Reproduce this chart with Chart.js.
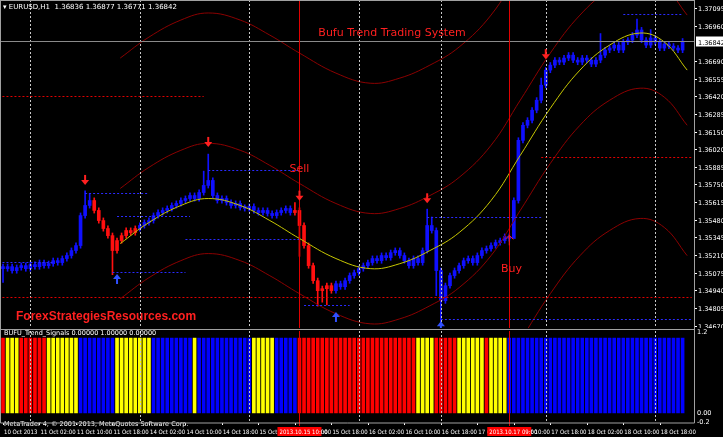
<!DOCTYPE html>
<html><head><meta charset="utf-8">
<script src="https://cdn.jsdelivr.net/npm/chart.js@4/dist/chart.umd.min.js"></script>
<style>
html,body{margin:0;padding:0;background:#000;width:723px;height:437px;overflow:hidden}
#w1{position:absolute;left:0;top:0;width:723px;height:328px}
#w2{position:absolute;left:0;top:328px;width:723px;height:109px}
</style></head><body>
<div id="w1"><canvas id="c1"></canvas></div>
<div id="w2"><canvas id="c2"></canvas></div>
<script>
// ---------- DATA ----------
const closes = [
1.35106,1.35121,1.35091,1.35114,1.35129,1.35106,1.35137,1.35121,1.35152,1.35129,1.35144,1.35167,1.35152,
1.35183,1.35206,1.35244,1.35282,
1.35511,1.35588,1.35626,
1.35550,1.35473,1.35412,1.35358,1.35244,
1.35320,1.35358,1.35397,
1.35381,1.35412,1.35435,1.35458,1.35473,
1.35511,1.35534,1.35550,1.35565,1.35588,1.35603,1.35626,1.35641,1.35664,
1.35641,1.35687,1.35741,1.35779,
1.35664,1.35626,1.35641,1.35611,1.35588,1.35603,1.35573,1.35565,1.35580,1.35550,1.35534,1.35550,1.35527,1.35511,1.35534,1.35550,1.35565,1.35534,
1.35550,
1.35435,1.35282,1.35129,1.35014,1.34938,
1.34953,1.34976,1.34938,1.34991,1.34968,1.35014,1.35053,
1.35075,1.35106,1.35129,1.35152,1.35183,1.35167,1.35206,1.35190,1.35228,1.35244,
1.35206,1.35167,1.35129,1.35183,1.35152,1.35244,1.35435,
1.35397,
1.35091,1.34861,
1.34976,1.35053,1.35091,1.35129,1.35167,1.35183,1.35152,1.35206,1.35244,1.35259,1.35282,1.35305,
1.35320,1.35351,1.35336,
1.35626,1.36085,
1.36200,1.36238,1.36315,1.36391,1.36506,1.36621,
1.36659,1.36697,1.36682,1.36713,1.36735,1.36697,1.36682,1.36713,1.36697,1.36667,
1.36697,1.36735,1.36774,1.36789,1.36812,1.36774,1.36835,1.36850,1.36888,
1.36927,1.36850,1.36812,1.36866,1.36835,1.36789,1.36820,1.36804,1.36789,1.36774,1.36842
];
const firstOpen = 1.35121;
const wickHigh = {18:1.35700,19:1.35680,45:1.35980,44:1.35850,64:1.35610,93:1.35560,94:1.35500,118:1.36560,139:1.37010,131:1.36900,142:1.36930};
const wickLow  = {0:1.35000,24:1.35060,69:1.34820,70:1.34850,71:1.34830,96:1.34690,95:1.34900,112:1.35500,65:1.35200};
const redCandles = [20,21,22,23,24,25,26,27,28,29,64,65,66,67,68,69,70,71,72];
const signals = "RYYYRRRRRRYYYYYYYBBBBBBBBYYYYYYYYBBBBBBBBBYBBBBBBBBBBBBYYYYYBBBBBRRRRRRRRRRRRRRRRRRRRRRRRRRYYYYRRRRRYYYYYYRYYYYBBBBBBBBBBBBBBBBBBBBBBBBBBBBBBBBBBBBBBB";
const midIdx   = [25.7,32,39,45,52,58.5,65,73,80.5,87,93.6,100,107,113.4,120,126.5,133,139.7,145,150];
const midLine  = [1.35297,1.35458,1.35588,1.35641,1.35588,1.35473,1.35336,1.35183,1.35106,1.35144,1.35244,1.35381,1.35626,1.35970,1.36330,1.36621,1.36812,1.36904,1.36835,1.36621];
const upInner  = [1.35718,1.35879,1.36009,1.36062,1.36009,1.35894,1.35756,1.35603,1.35527,1.35565,1.35664,1.35802,1.36047,1.36391,1.36751,1.37041,1.37233,1.37324,1.37256,1.37041];
const loInner  = [1.34876,1.35037,1.35167,1.35221,1.35167,1.35052,1.34915,1.34762,1.34685,1.34723,1.34823,1.34961,1.35205,1.35550,1.35909,1.36200,1.36391,1.36483,1.36414,1.36200];
const upOuter  = [1.36713,1.36873,1.37003,1.37057,1.37003,1.36888,1.36751,1.36598,1.36521,1.36560,1.36659,1.36797,1.37041,1.37386];
const loOuterIdx = [113.4,120,126.5,133,139.7,145,150];
const loOuter  = [1.34555,1.34915,1.35205,1.35397,1.35489,1.35420,1.35205];
const priceTicks = [1.37095,1.36960,1.36690,1.36555,1.36420,1.36285,1.36150,1.36020,1.35885,1.35750,1.35615,1.35480,1.35345,1.35210,1.35075,1.34940,1.34805,1.34670];
const dateTicks = ["10 Oct 2013","11 Oct 02:00","11 Oct 10:00","11 Oct 18:00","14 Oct 02:00","14 Oct 10:00","14 Oct 18:00","15 Oct 02:00","15 Oct 10:00","15 Oct 18:00","16 Oct 02:00","16 Oct 10:00","16 Oct 18:00","17 Oct 02:00","17 Oct 10:00","17 Oct 18:00","18 Oct 02:00","18 Oct 10:00","18 Oct 18:00"];
const gridIdx = [6,30,54,78,96,119,143];
const signalLines = [{i:65,label:"2013.10.15 10:00"},{i:111,label:"2013.10.17 09:00"}];
const sellArrows = [[18,1.35760],[45,1.36050],[93,1.35620],[119,1.36720]];
const buyArrows  = [[25,1.35050],[73,1.34760],[96,1.34690]];
const dottedLines = [
 {a:-1,b:44,p:1.36420,c:'#e00000'},{a:-1,b:151,p:1.34890,c:'#e00000'},{a:118,b:151,p:1.35960,c:'#e00000'},
 {a:18,b:32,p:1.35680,c:'#2a2aff'},{a:25,b:41,p:1.35510,c:'#2a2aff'},{a:24,b:40,p:1.35080,c:'#2a2aff'},
 {a:45,b:65,p:1.35860,c:'#2a2aff'},{a:40,b:65,p:1.35330,c:'#2a2aff'},{a:66,b:76,p:1.34830,c:'#2a2aff'},
 {a:-1,b:11,p:1.35160,c:'#2a2aff'},{a:96,b:151,p:1.34720,c:'#2a2aff'},{a:93,b:118,p:1.35500,c:'#2a2aff'},
 {a:136,b:149,p:1.37050,c:'#2a2aff'},{a:130,b:137,p:1.36842,c:'#2a2aff'}
];
// ---------- BUILD ----------
const N = closes.length;
const opens = closes.map((c,i)=> i===0 ? firstOpen : closes[i-1]);
const bodies = closes.map((c,i)=>({x:i,y:[opens[i],c]}));
const wicks = closes.map((c,i)=>({x:i,y:[wickLow[i]!==undefined?wickLow[i]:Math.min(opens[i],c)-0.0002, wickHigh[i]!==undefined?wickHigh[i]:Math.max(opens[i],c)+0.0002]}));
const candleCol = closes.map((c,i)=> redCandles.includes(i)?'#ff1010':'#1010ff');
const pts = (ix,arr)=>arr.map((v,k)=>({x:ix[k],y:v}));
const XMIN=-0.66, XMAX=151.5;
const FONT='"DejaVu Sans", sans-serif';
const NFONT='"DejaVu Sans Condensed", "Liberation Sans Narrow", sans-serif';
const fixW = {afterFit(s){s.width=29;}};

const overlay = {
 id:'overlay',
 afterDatasetsDraw(ch){
  const {ctx,chartArea:a,scales:{x,y}}=ch;
  ctx.save();
  ctx.beginPath();ctx.rect(a.left,a.top,a.right-a.left,a.bottom-a.top);ctx.clip();
  ctx.setLineDash([2,2]);ctx.strokeStyle='#c8c8c8';ctx.lineWidth=1;
  gridIdx.forEach(g=>{const px=Math.round(x.getPixelForValue(g))+0.5;ctx.beginPath();ctx.moveTo(px,a.top);ctx.lineTo(px,a.bottom);ctx.stroke();});
  dottedLines.forEach(d=>{ctx.strokeStyle=d.c;const py=Math.round(y.getPixelForValue(d.p))+0.5;ctx.beginPath();ctx.moveTo(x.getPixelForValue(d.a),py);ctx.lineTo(x.getPixelForValue(d.b),py);ctx.stroke();});
  ctx.setLineDash([]);
  const cp=Math.round(y.getPixelForValue(closes[N-1]))+0.5;
  ctx.strokeStyle='#8a8a8a';ctx.beginPath();ctx.moveTo(a.left,cp);ctx.lineTo(a.right,cp);ctx.stroke();
  ctx.strokeStyle='#e00000';
  signalLines.forEach(s=>{const px=Math.round(x.getPixelForValue(s.i))+0.5;ctx.beginPath();ctx.moveTo(px,a.top);ctx.lineTo(px,a.bottom);ctx.stroke();});
  const arrow=(i,p,down,col)=>{const px=x.getPixelForValue(i),py=y.getPixelForValue(p);ctx.fillStyle=col;ctx.strokeStyle=col;ctx.lineWidth=2;
   const d=down?1:-1;ctx.beginPath();ctx.moveTo(px,py-d*8);ctx.lineTo(px,py-d*2);ctx.stroke();
   ctx.beginPath();ctx.moveTo(px-4,py-d*3);ctx.lineTo(px+4,py-d*3);ctx.lineTo(px,py+d*2);ctx.closePath();ctx.fill();};
  sellArrows.forEach(s=>arrow(s[0],s[1],true,'#ff2020'));
  buyArrows.forEach(s=>arrow(s[0],s[1],false,'#3050ff'));
  arrow(65,1.35640,true,'#ff2020');
  ctx.lineWidth=1;ctx.strokeStyle='#ff2020';
  const bx=x.getPixelForValue(111),by=y.getPixelForValue(1.35360);
  ctx.beginPath();ctx.moveTo(bx,by+10);ctx.lineTo(bx,by);ctx.moveTo(bx-4,by+4);ctx.lineTo(bx,by);ctx.lineTo(bx+4,by+4);ctx.stroke();
  ctx.restore();
  ctx.save();
  ctx.fillStyle='#ff2020';ctx.font='11px '+FONT;ctx.textAlign='center';
  ctx.fillText('Sell',x.getPixelForValue(65),y.getPixelForValue(1.35840));
  ctx.fillText('Buy',x.getPixelForValue(111.5),y.getPixelForValue(1.35080));
  ctx.fillText('Bufu Trend Trading System',392,36);
  ctx.font='bold 12px "Liberation Sans", sans-serif';ctx.textAlign='left';
  ctx.fillText('ForexStrategiesResources.com',16,320);
  ctx.fillStyle='#fff';ctx.font='7px '+FONT;
  ctx.fillText('▾ EURUSD,H1  1.36836 1.36877 1.36771 1.36842',3,9);
  ctx.fillStyle='#fff';ctx.font='6.5px '+FONT;
  priceTicks.forEach(v=>{const py=y.getPixelForValue(v);ctx.fillRect(a.right,Math.round(py),3,1);ctx.fillText(v.toFixed(5),a.right+4,py+3);});
  ctx.fillRect(a.right+2,cp-5,28,10);
  ctx.fillStyle='#000';ctx.fillText('1.36842',a.right+4,cp+3);
  ctx.strokeStyle='#a0a0a0';ctx.lineWidth=1;
  ctx.strokeRect(0.5,0.5,a.right,a.bottom+0.5);
  ctx.restore();
 }
};

new Chart(document.getElementById('c1'),{
 type:'bar',
 data:{datasets:[
  {type:'line',data:pts(midIdx,midLine),borderColor:'#c8c800',borderWidth:1,pointRadius:0,tension:0.4},
  {type:'line',data:pts(midIdx,upInner),borderColor:'#8b0000',borderWidth:1,pointRadius:0,tension:0.4},
  {type:'line',data:pts(midIdx,loInner),borderColor:'#8b0000',borderWidth:1,pointRadius:0,tension:0.4},
  {type:'line',data:pts(midIdx.slice(0,upOuter.length),upOuter),borderColor:'#8b0000',borderWidth:1,pointRadius:0,tension:0.4},
  {type:'line',data:pts(loOuterIdx,loOuter),borderColor:'#8b0000',borderWidth:1,pointRadius:0,tension:0.4},
  {data:wicks,backgroundColor:candleCol,barThickness:1,grouped:false},
  {data:bodies,backgroundColor:candleCol,barThickness:3,grouped:false,minBarLength:2}
 ]},
 options:{responsive:true,maintainAspectRatio:false,animation:false,
  layout:{padding:0},
  plugins:{legend:{display:false},tooltip:{enabled:false}},
  scales:{
   x:{type:'linear',min:XMIN,max:XMAX,offset:false,display:false},
   y:{position:'right',min:1.34653,max:1.37156,...fixW,
      grid:{display:false},border:{display:false},ticks:{display:false}}
  }},
 plugins:[overlay]
});

const subOverlay={
 id:'sub',
 afterDatasetsDraw(ch){
  const {ctx,chartArea:a,scales:{x}}=ch;
  ctx.save();
  ctx.setLineDash([2,2]);ctx.strokeStyle='#c8c8c8';
  gridIdx.forEach(g=>{const px=Math.round(x.getPixelForValue(g))+0.5;ctx.beginPath();ctx.moveTo(px,a.top);ctx.lineTo(px,a.bottom);ctx.stroke();});
  ctx.setLineDash([]);ctx.strokeStyle='#e00000';
  signalLines.forEach(s=>{const px=Math.round(x.getPixelForValue(s.i))+0.5;ctx.beginPath();ctx.moveTo(px,a.top);ctx.lineTo(px,a.bottom+3);ctx.stroke();});
  ctx.fillStyle='#fff';ctx.font='6.5px '+FONT;ctx.textAlign='left';
  ctx.fillText('BUFU_Trend_Signals 0.00000 1.00000 0.00000',4,7);
  ctx.fillText('MetaTrader 4, © 2001-2013, MetaQuotes Software Corp.',4,98);
  ctx.fillText('1.2',a.right+3,6);ctx.fillText('0.00',a.right+3,87);ctx.fillText('-0.2',a.right+3,96);
  const ty=106;
  ctx.font='6px '+NFONT;
  dateTicks.forEach((t,k)=>{const px=x.getPixelForValue(k*8);ctx.fillRect(Math.round(px),a.bottom,1,2);ctx.fillText(t,px+1,ty);});
  signalLines.forEach(s=>{const px=x.getPixelForValue(s.i);ctx.fillStyle='#ff0000';ctx.fillRect(px-22,ty-7,44,9);ctx.fillStyle='#fff';ctx.fillText(s.label,px-20,ty);});
  ctx.strokeStyle='#a0a0a0';ctx.lineWidth=1;
  ctx.beginPath();ctx.moveTo(0,1.5);ctx.lineTo(a.right,1.5);ctx.moveTo(0.5,0);ctx.lineTo(0.5,a.bottom);ctx.lineTo(a.right+0.5,a.bottom);ctx.lineTo(a.right+0.5,0);ctx.stroke();
  ctx.restore();
 }
};
const sigCol={R:'#ff0000',Y:'#ffff00',B:'#0000ff'};
new Chart(document.getElementById('c2'),{
 type:'bar',
 data:{datasets:[{data:closes.map((c,i)=>({x:i,y:1})),backgroundColor:closes.map((c,i)=>sigCol[signals[i]]),barThickness:3}]},
 options:{responsive:true,maintainAspectRatio:false,animation:false,
  layout:{padding:{top:3,bottom:14}},
  plugins:{legend:{display:false},tooltip:{enabled:false}},
  scales:{
   x:{type:'linear',min:XMIN,max:XMAX,offset:false,display:false},
   y:{position:'right',min:-0.135,max:1.095,...fixW,grid:{display:false},border:{display:false},ticks:{display:false}}
  }},
 plugins:[subOverlay]
});
</script></body></html>
